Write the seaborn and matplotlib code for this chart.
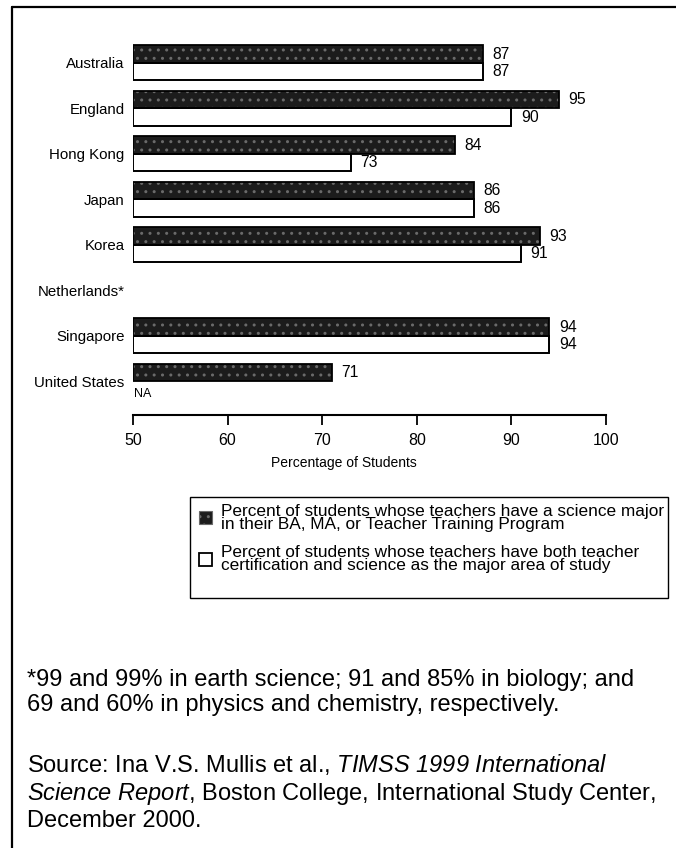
import numpy as np
import pandas as pd
import matplotlib
matplotlib.use("Agg")
import matplotlib.pyplot as plt
from matplotlib.lines import Line2D
from matplotlib.patches import Patch, Rectangle
import seaborn as sns

countries = ["Australia", "England", "Hong Kong", "Japan", "Korea",
             "Netherlands*", "Singapore", "United States"]
science_major = [87, 95, 84, 86, 93, np.nan, 94, 71]
cert_and_major = [87, 90, 73, 86, 91, np.nan, 94, np.nan]
series_names = [
    "Percent of students whose teachers have a science major\nin their BA, MA, or Teacher Training Program",
    "Percent of students whose teachers have both teacher\ncertification and science as the major area of study",
]
x_ticks = [50, 60, 70, 80, 90, 100]
footnote = ("*99 and 99% in earth science; 91 and 85% in biology; and\n"
            "69 and 60% in physics and chemistry, respectively.")

df = pd.DataFrame({
    "Country": countries * 2,
    "Series": [series_names[0]] * len(countries) + [series_names[1]] * len(countries),
    "Value": science_major + cert_and_major,
})

sns.set_theme(style="white")
plt.rcParams["font.family"] = ["Liberation Sans", "DejaVu Sans"]
plt.rcParams["text.color"] = "black"
plt.rcParams["axes.labelcolor"] = "black"
plt.rcParams["xtick.color"] = "black"
plt.rcParams["ytick.color"] = "black"
plt.rcParams["mathtext.fontset"] = "custom"
plt.rcParams["mathtext.rm"] = "Liberation Sans:italic"
plt.rcParams["mathtext.it"] = "Liberation Sans:italic"

W, H = 676, 848
fig = plt.figure(figsize=(W / 100, H / 100), dpi=100)
ax = fig.add_axes([133 / W, 1 - 415 / H, 473 / W, (415 - 35.7) / H])

dark = "#1c1c1c"
palette = {series_names[0]: dark, series_names[1]: "white"}
sns.barplot(data=df, y="Country", x="Value", hue="Series", order=countries,
            hue_order=series_names, palette=palette, orient="h",
            width=0.77, gap=0, errorbar=None, edgecolor="black",
            linewidth=1.2, legend=False, ax=ax)

# texture on dark bars
for p in ax.containers[0]:
    p.set_hatch("..")
    p.set_edgecolor("#6a6a6a")
    p.set_linewidth(0)
# outline overlay
sns.barplot(data=df, y="Country", x="Value", hue="Series", order=countries,
            hue_order=series_names, palette=palette, orient="h",
            width=0.77, gap=0, errorbar=None, fill=False,
            linewidth=1.3, legend=False, ax=ax)
for c in ax.containers[2:]:
    for p in c:
        p.set_edgecolor("black")
        p.set_facecolor("none")

# bars begin at the axis origin (50) so their left edge is visible
x0 = x_ticks[0]
for c in ax.containers:
    for p in c:
        w = p.get_width()
        if np.isfinite(w) and w > x0:
            p.set_x(x0)
            p.set_width(w - x0)

# value labels
for c in ax.containers[:2]:
    for p in c:
        w = p.get_x() + p.get_width()
        if np.isfinite(w) and p.get_width() > 0:
            ax.annotate(f"{w:.0f}", (w, p.get_y() + p.get_height() / 2),
                        xytext=(7, 0), textcoords="offset points",
                        ha="left", va="center", fontsize=11.3, color="black")

us_idx = countries.index("United States")
ax.annotate("NA", (x0, us_idx + 0.19), xytext=(1, -3),
            textcoords="offset points", ha="left", va="center", fontsize=9)

ax.set_xlim(x_ticks[0], x_ticks[-1])
ax.set_ylim(7.74, -0.6)
ax.set_xticks(x_ticks)
ax.set_xticklabels([str(t) for t in x_ticks], fontsize=11.5)
ax.set_xlabel("Percentage of Students", fontsize=10)
ax.xaxis.set_label_coords(0.446, -(456 - 415) / (415 - 35.7))
ax.set_ylabel("")
ax.tick_params(axis="y", length=0, labelsize=10.8, pad=6)
ax.tick_params(axis="x", bottom=True, length=7, width=1.3, direction="out",
               pad=6, color="black")
for s in ["top", "right", "left"]:
    ax.spines[s].set_visible(False)
ax.spines["bottom"].set_linewidth(1.5)
ax.spines["bottom"].set_color("black")

# legend (text/handles) + its box
handles = [Patch(facecolor=dark, edgecolor="#6a6a6a", hatch="..", linewidth=0.8),
           Patch(facecolor="white", edgecolor="black", linewidth=1.3)]
leg = fig.legend(handles, series_names, loc="upper left",
                 bbox_to_anchor=(190 / W, 1 - 495 / H), fontsize=12.4,
                 frameon=False,
                 handlelength=0.75, handleheight=0.75, handletextpad=0.55,
                 labelspacing=0.78, borderpad=0.5, borderaxespad=0)
for t in leg.get_texts():
    t.set_linespacing(0.85)
    t.set_color("black")
fig.add_artist(Rectangle((190 / W, 1 - 598 / H), (668 - 190) / W, (598 - 497) / H,
                         transform=fig.transFigure, fill=False,
                         edgecolor="black", linewidth=1.0))

# footnote & source
fig.text(27 / W, 1 - 692.5 / H, footnote, fontsize=17.0, ha="left",
         va="center", linespacing=1.17)
fig.text(27 / W, 1 - 792 / H,
         "Source: Ina V.S. Mullis et al., $TIMSS\\ 1999\\ International$\n"
         "$Science\\ Report$, Boston College, International Study Center,\n"
         "December 2000.",
         fontsize=17.0, ha="left", va="center", linespacing=1.17)

# page frame
fig.add_artist(Line2D([12 / W, 1], [1 - 7 / H, 1 - 7 / H], color="black", lw=1.6,
                      transform=fig.transFigure))
fig.add_artist(Line2D([12 / W, 12 / W], [1 - 7 / H, 0], color="black", lw=1.6,
                      transform=fig.transFigure))

fig.savefig("out.png", dpi=100, facecolor="white")
